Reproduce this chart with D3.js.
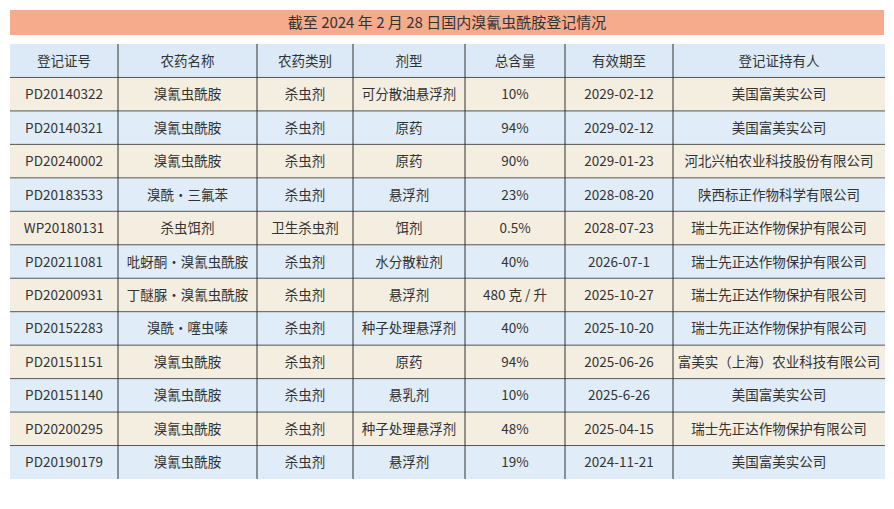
<!DOCTYPE html><html><head><meta charset="utf-8"><script src="https://cdn.jsdelivr.net/npm/d3@7"></script>
<style>body{margin:0;background:#fff}svg{font-family:"Noto Sans CJK SC",sans-serif}</style></head><body><svg id="c" width="894" height="509"></svg>
<script>
const title="截至 2024 年 2 月 28 日国内溴氰虫酰胺登记情况";
const headers=["登记证号","农药名称","农药类别","剂型","总含量","有效期至","登记证持有人"];
const regNo=["PD20140322","PD20140321","PD20240002","PD20183533","WP20180131","PD20211081","PD20200931","PD20152283","PD20151151","PD20151140","PD20200295","PD20190179"];
const names=["溴氰虫酰胺","溴氰虫酰胺","溴氰虫酰胺","溴酰·三氟苯","杀虫饵剂","吡蚜酮·溴氰虫酰胺","丁醚脲·溴氰虫酰胺","溴酰·噻虫嗪","溴氰虫酰胺","溴氰虫酰胺","溴氰虫酰胺","溴氰虫酰胺"];
const types=["杀虫剂","杀虫剂","杀虫剂","杀虫剂","卫生杀虫剂","杀虫剂","杀虫剂","杀虫剂","杀虫剂","杀虫剂","杀虫剂","杀虫剂"];
const forms=["可分散油悬浮剂","原药","原药","悬浮剂","饵剂","水分散粒剂","悬浮剂","种子处理悬浮剂","原药","悬乳剂","种子处理悬浮剂","悬浮剂"];
const contents=["10%","94%","90%","23%","0.5%","40%","480 克 / 升","40%","94%","10%","48%","19%"];
const expiry=["2029-02-12","2029-02-12","2029-01-23","2028-08-20","2028-07-23","2026-07-1","2025-10-27","2025-10-20","2025-06-26","2025-6-26","2025-04-15","2024-11-21"];
const holders=["美国富美实公司","美国富美实公司","河北兴柏农业科技股份有限公司","陕西标正作物科学有限公司","瑞士先正达作物保护有限公司","瑞士先正达作物保护有限公司","瑞士先正达作物保护有限公司","瑞士先正达作物保护有限公司","富美实（上海）农业科技有限公司","美国富美实公司","瑞士先正达作物保护有限公司","美国富美实公司"];
const cols=[regNo,names,types,forms,contents,expiry,holders];
const colEdges=[10,118,257,353,465,565,673,885];
const svg=d3.select("#c");
svg.append("rect").attr("x",10).attr("y",10).attr("width",874).attr("height",25).attr("fill","#f5ab8c");
svg.append("text").attr("x",447).attr("y",28).attr("text-anchor","middle").attr("font-size",15).attr("fill","#333").text(title);
const y=d3.scaleBand().domain(d3.range(regNo.length+1)).range([44,479]);
const x=i=>colEdges[i];
const rows=svg.append("g");
d3.range(regNo.length+1).forEach(r=>{
  rows.append("rect").attr("x",10).attr("y",y(r)).attr("width",875).attr("height",y.bandwidth())
   .attr("fill",r===0?"#dbeaf6":(r%2===1?"#f4eee1":"#e0edf8"));
});
d3.range(1,regNo.length+1).forEach(r=>{
  svg.append("line").attr("x1",10).attr("x2",885).attr("y1",y(r)).attr("y2",y(r)).attr("stroke","#555").attr("stroke-width",1);
});
d3.range(1,7).forEach(i=>{
  svg.append("line").attr("x1",x(i)).attr("x2",x(i)).attr("y1",44).attr("y2",479).attr("stroke","#333").attr("stroke-width",1);
});
headers.forEach((h,i)=>{
  svg.append("text").attr("x",(x(i)+x(i+1))/2).attr("y",y(0)+y.bandwidth()/2+5).attr("text-anchor","middle").attr("font-size",13.5).attr("fill","#333").text(h);
});
cols.forEach((col,i)=>{
  col.forEach((v,r)=>{
    svg.append("text").attr("x",(x(i)+x(i+1))/2).attr("y",y(r+1)+y.bandwidth()/2+5).attr("text-anchor","middle").attr("font-size",13.5).attr("fill","#333").text(v);
  });
});
</script></body></html>
